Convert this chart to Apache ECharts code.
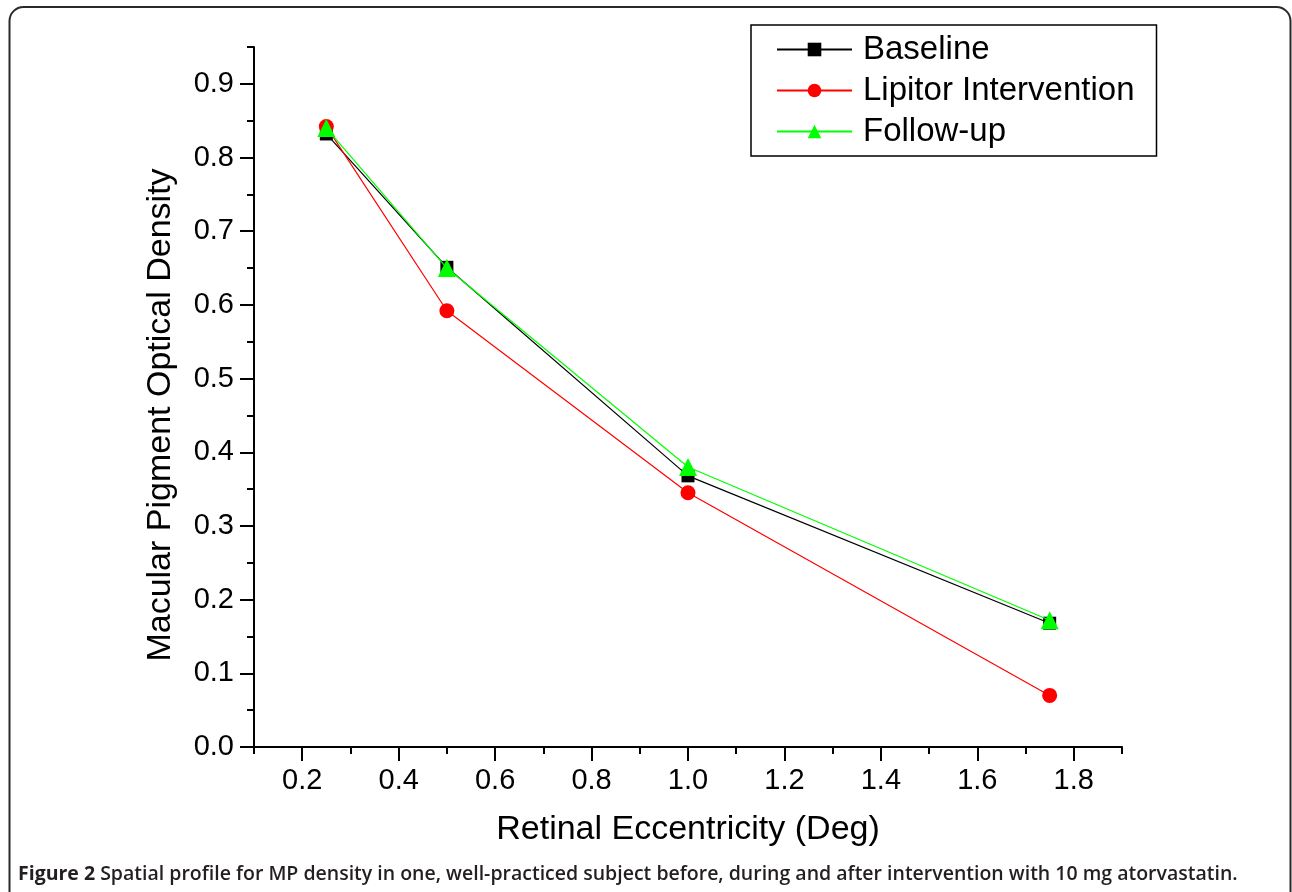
<!DOCTYPE html>
<html>
<head>
<meta charset="utf-8">
<script src="https://cdn.jsdelivr.net/npm/echarts@6/dist/echarts.min.js"></script>
<style>
  html, body { margin: 0; padding: 0; background: #fff; }
  #chart { width: 1292px; height: 892px; }
</style>
</head>
<body>
<div id="chart"></div>
<script>
// ---- Data ----
const eccentricity = [0.25, 0.5, 1.0, 1.75];
const baseline = [0.832, 0.651, 0.368, 0.168];
const lipitor = [0.842, 0.592, 0.345, 0.070];
const followUp = [0.840, 0.650, 0.380, 0.172];
const seriesNames = ['Baseline', 'Lipitor Intervention', 'Follow-up'];
const xTicks = [0.2, 0.4, 0.6, 0.8, 1.0, 1.2, 1.4, 1.6, 1.8];
const yTicks = [0.0, 0.1, 0.2, 0.3, 0.4, 0.5, 0.6, 0.7, 0.8, 0.9];
const xTitle = 'Retinal Eccentricity (Deg)';
const yTitle = 'Macular Pigment Optical Density';
const captionBold = 'Figure 2';
const captionText = ' Spatial profile for MP density in one, well-practiced subject before, during and after intervention with 10 mg atorvastatin.';

const FONT = '"Liberation Sans", Arial, sans-serif';
const pairs = (ys) => eccentricity.map((x, i) => [x, ys[i]]);

const chart = echarts.init(document.getElementById('chart'), null, { renderer: 'canvas' });

const axisLineStyle = { color: '#000', width: 2 };

chart.setOption({
  animation: false,
  backgroundColor: '#fff',
  grid: { left: 254, right: 170, top: 47, bottom: 145, containLabel: false },
  xAxis: [
    {
      type: 'value', min: 0.1, max: 1.9, interval: 0.1,
      position: 'bottom',
      axisLine: { show: true, lineStyle: axisLineStyle },
      axisTick: { show: true, customValues: xTicks, length: 14, lineStyle: axisLineStyle },
      axisLabel: { customValues: xTicks, formatter: v => v.toFixed(1), fontSize: 29, fontFamily: FONT, color: '#000', margin: 19 },
      splitLine: { show: false },
      name: xTitle, nameLocation: 'middle', nameGap: 66,
      nameTextStyle: { fontSize: 34, fontFamily: FONT, color: '#000' }
    },
    {
      type: 'value', min: 0.1, max: 1.9, interval: 0.1,
      position: 'top', offset: -700,
      axisLine: { show: false },
      axisTick: { show: true, inside: true, length: 7, lineStyle: axisLineStyle },
      axisLabel: { show: false },
      splitLine: { show: false }
    }
  ],
  yAxis: [
    {
      type: 'value', min: 0, max: 0.95, interval: 0.1,
      position: 'left',
      axisLine: { show: true, lineStyle: axisLineStyle },
      axisTick: { show: true, customValues: yTicks, length: 14, lineStyle: axisLineStyle },
      axisLabel: { customValues: yTicks, formatter: v => v.toFixed(1), fontSize: 29, fontFamily: FONT, color: '#000', margin: 20 },
      splitLine: { show: false },
      name: yTitle, nameLocation: 'middle', nameGap: 76,
      nameTextStyle: { fontSize: 34, fontFamily: FONT, color: '#000', padding: [0, 36, 0, 0] }
    },
    {
      type: 'value', min: 0, max: 0.95, interval: 0.05,
      position: 'right', offset: -868,
      axisLine: { show: false },
      axisTick: { show: true, inside: true, length: 7, lineStyle: axisLineStyle },
      axisLabel: { show: false },
      splitLine: { show: false }
    }
  ],
  legend: {
    left: 751, top: 25, orient: 'vertical',
    padding: [8, 22, 8, 25], itemGap: 8,
    itemWidth: 75, itemHeight: 17,
    borderColor: '#000', borderWidth: 1.5, backgroundColor: '#fff',
    textStyle: { fontSize: 33, fontFamily: FONT, color: '#000', padding: [0, 0, 0, 6] },
    data: seriesNames
  },
  series: [
    {
      name: seriesNames[0], type: 'line', data: pairs(baseline),
      symbol: 'rect', symbolSize: 13,
      itemStyle: { color: '#000' }, lineStyle: { color: '#000', width: 1.2 },
      z: 2
    },
    {
      name: seriesNames[1], type: 'line', data: pairs(lipitor),
      symbol: 'circle', symbolSize: 15,
      itemStyle: { color: '#ff0000' }, lineStyle: { color: '#ff0000', width: 1.2 },
      z: 3
    },
    {
      name: seriesNames[2], type: 'line', data: pairs(followUp),
      symbol: 'triangle', symbolSize: 18,
      itemStyle: { color: '#00ff00' }, lineStyle: { color: '#00ff00', width: 1.2 },
      z: 4
    }
  ],
  graphic: [
    {
      type: 'rect', silent: true, z: 100,
      shape: { x: 9.5, y: 7, width: 1281, height: 950, r: 14 },
      style: { fill: 'none', stroke: '#2a2a2a', lineWidth: 2 }
    },
    {
      type: 'text', left: 18, top: 864, silent: true,
      style: {
        text: '{b|' + captionBold + '}{r|' + captionText + '}',
        rich: {
          b: { fontFamily: '"Open Sans", "Noto Sans", sans-serif', fontWeight: 'bold', fontSize: 19.5, fill: '#231f20' },
          r: { fontFamily: '"Open Sans", "Noto Sans", sans-serif', fontWeight: 600, fontSize: 19.5, fill: '#231f20' }
        }
      }
    }
  ]
});
</script>
</body>
</html>
